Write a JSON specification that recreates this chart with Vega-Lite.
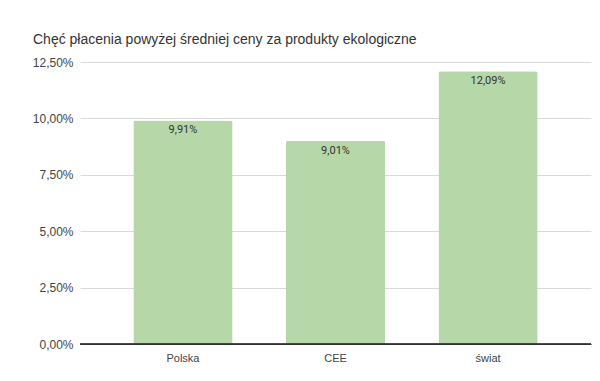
{
  "$schema": "https://vega.github.io/schema/vega-lite/v6.json",
  "autosize": {"type": "none"},
  "width": 511,
  "height": 282,
  "padding": {"left": 80, "top": 62, "right": 9, "bottom": 37},
  "background": "white",
  "title": {
    "text": "Chęć płacenia powyżej średniej ceny za produkty ekologiczne",
    "anchor": "start",
    "frame": "group",
    "font": "Liberation Sans",
    "fontSize": 14,
    "fontWeight": "normal",
    "color": "#333333",
    "baseline": "alphabetic",
    "offset": -2,
    "dx": -47
  },
  "data": {
    "values": [
      {"region": "Polska", "value": 9.91},
      {"region": "CEE", "value": 9.01},
      {"region": "świat", "value": 12.09}
    ]
  },
  "encoding": {
    "x": {
      "field": "region",
      "type": "nominal",
      "sort": null,
      "scale": {"paddingInner": 0.35, "paddingOuter": 0.35},
      "axis": {
        "title": null,
        "labelAngle": 0,
        "labelFont": "Liberation Sans",
        "labelFontSize": 11,
        "labelColor": "#444444",
        "labelPadding": 8,
        "ticks": false,
        "domainColor": "#333333",
        "domainWidth": 1
      }
    },
    "y": {
      "field": "value",
      "type": "quantitative",
      "scale": {"domain": [0, 12.5], "nice": false},
      "axis": {
        "title": null,
        "values": [0, 2.5, 5, 7.5, 10, 12.5],
        "labelExpr": "replace(format(datum.value, '.2f'), '.', ',') + '%'",
        "labelFont": "Liberation Sans",
        "labelFontSize": 12,
        "labelColor": "#444444",
        "labelPadding": 7,
        "ticks": false,
        "domain": false,
        "gridColor": "#d9d9d9",
        "gridWidth": 1
      }
    }
  },
  "layer": [
    {
      "mark": {"type": "bar", "color": "#b6d7a8", "cornerRadiusTopLeft": 2, "cornerRadiusTopRight": 2}
    },
    {
      "mark": {
        "type": "text",
        "baseline": "top",
        "dy": 4,
        "font": "Roboto",
        "fontSize": 11,
        "color": "#333333"
      },
      "encoding": {
        "text": {"field": "label"}
      },
      "transform": [
        {"calculate": "replace(format(datum.value, '.2f'), '.', ',') + '%'", "as": "label"}
      ]
    },
    {
      "mark": {"type": "rule", "color": "#333333", "strokeWidth": 1},
      "encoding": {"y": {"datum": 0}, "x": {"value": 0}, "x2": {"value": 511}}
    }
  ],
  "config": {"view": {"stroke": null}}
}
